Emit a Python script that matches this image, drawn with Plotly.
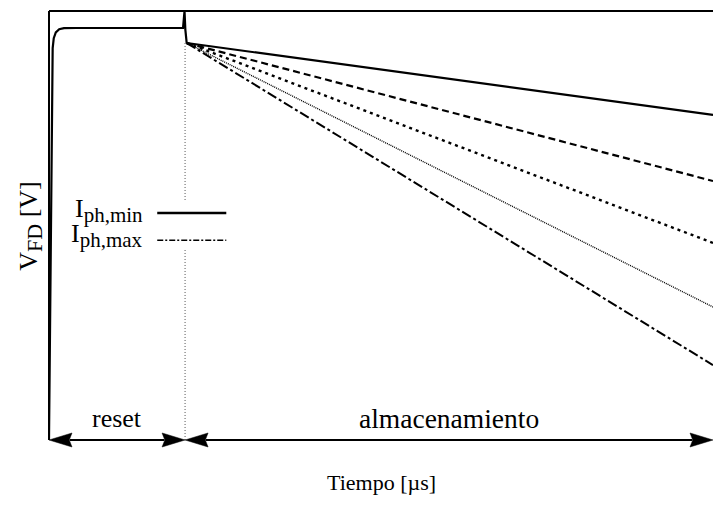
import plotly.graph_objects as go

# ---- data ----
# reset phase waveform (time in µs, voltage in V)
reset_t = [0.0, 0.012, 0.018, 0.022, 0.027, 0.035, 0.05, 0.075, 0.11, 0.2, 0.5, 0.985, 0.996, 1.002, 1.012]
reset_v = [0.0, 1.2, 2.3, 2.62, 2.74, 2.81, 2.85, 2.872, 2.88, 2.881, 2.881, 2.881, 3.0, 2.87, 2.776]

# storage phase: start point and end values for each photocurrent
store_t = [1.012, 4.88]
store_start_v = 2.776
store_end_v = [2.273, 1.811, 1.378, 0.930, 0.524]
store_dash = ["solid", "7px,4px", "3px,4px", "1px,1px", "10px,3px,3px,3px"]
store_width = [2.2, 2.2, 2.4, 1.4, 2.0]

# phase boundaries (µs)
t_phase = [0.0, 1.0, 4.88]
phase_labels = ["reset", "almacenamiento"]
phase_label_size = [26, 27.5]

Y_TOP = 3.0
Y_BOT = -0.07

FONT = "Liberation Serif"

fig = go.Figure()

# vertical dotted marker at end of reset
fig.add_trace(go.Scatter(x=[t_phase[1], t_phase[1]], y=[0, store_start_v], mode="lines",
                         line=dict(color="#555", width=1, dash="1px,2px"), hoverinfo="skip"))

fig.add_trace(go.Scatter(x=reset_t, y=reset_v, mode="lines",
                         line=dict(color="black", width=2.2), hoverinfo="skip"))

for ve, d, w in zip(store_end_v, store_dash, store_width):
    fig.add_trace(go.Scatter(x=store_t, y=[store_start_v, ve], mode="lines",
                             line=dict(color="black", width=w, dash=d), hoverinfo="skip"))

# dimension arrows along the bottom
px_per_t = 664 / (t_phase[2] - t_phase[0])
px_per_v = 439 / (Y_TOP - Y_BOT)
L = 23 / px_per_t
H = 7 / px_per_v
N = 0.12 * L
for a, b in zip(t_phase[:-1], t_phase[1:]):
    fig.add_trace(go.Scatter(x=[a + L * 0.9, b - L * 0.9], y=[0, 0], mode="lines",
                             line=dict(color="black", width=2), hoverinfo="skip"))
    # left head
    fig.add_trace(go.Scatter(x=[a, a + L, a + L - N, a + L, a], y=[0, H, 0, -H, 0],
                             mode="lines", fill="toself", fillcolor="black",
                             line=dict(color="black", width=0.5), hoverinfo="skip"))
    # right head
    fig.add_trace(go.Scatter(x=[b, b - L, b - L + N, b - L, b], y=[0, H, 0, -H, 0],
                             mode="lines", fill="toself", fillcolor="black",
                             line=dict(color="black", width=0.5), hoverinfo="skip"))

for i, lab in enumerate(phase_labels):
    fig.add_annotation(x=(t_phase[i] + t_phase[i + 1]) / 2, y=0.15, xref="x", yref="y",
                       text=lab, showarrow=False,
                       font=dict(family=FONT, size=phase_label_size[i], color="black"))

shapes = [
    # frame: top and left
    dict(type="line", xref="paper", yref="paper", x0=0, x1=1, y0=1, y1=1,
         line=dict(color="black", width=2)),
    dict(type="line", xref="paper", yref="y", x0=0, x1=0, y0=0, y1=Y_TOP,
         line=dict(color="black", width=2)),
    # legend background and samples
    dict(type="rect", xref="paper", yref="paper", x0=0.15, x1=0.28, y0=0.456, y1=0.569,
         fillcolor="white", line=dict(width=0), layer="above"),
    dict(type="line", xref="paper", yref="paper", x0=0.163, x1=0.267, y0=0.540, y1=0.540,
         line=dict(color="black", width=2.5), layer="above"),
    dict(type="line", xref="paper", yref="paper", x0=0.163, x1=0.267, y0=0.478, y1=0.478,
         line=dict(color="black", width=1.5, dash="6px,2px,2px,2px"), layer="above"),
]

SUB = "<sub><span style='font-size:21px'>{}</span></sub>"
fig.add_annotation(x=0.1445, y=0.545, xref="paper", yref="paper", xanchor="right", yanchor="middle",
                   text="I" + SUB.format("ph,min"), showarrow=False,
                   font=dict(family=FONT, size=26, color="black"))
fig.add_annotation(x=0.1445, y=0.488, xref="paper", yref="paper", xanchor="right", yanchor="middle",
                   text="I" + SUB.format("ph,max"), showarrow=False,
                   font=dict(family=FONT, size=26, color="black"))

fig.add_annotation(x=-0.057, y=0.51, xref="paper", yref="paper", textangle=-90,
                   text="V<sub><span style='font-size:22px'>FD</span></sub> [V]", showarrow=False,
                   font=dict(family=FONT, size=26, color="black"))
fig.add_annotation(x=0.5, y=-0.107, xref="paper", yref="paper",
                   text="Tiempo [µs]", showarrow=False, font=dict(family=FONT, size=22, color="black"))

fig.update_layout(
    width=713, height=520,
    margin=dict(l=49, r=0, t=11, b=70),
    paper_bgcolor="white", plot_bgcolor="white",
    showlegend=False,
    shapes=shapes,
    xaxis=dict(range=[t_phase[0], t_phase[2]], showgrid=False, zeroline=False, showticklabels=False,
               ticks="", showline=False),
    yaxis=dict(range=[Y_BOT, Y_TOP], showgrid=False, zeroline=False, showticklabels=False,
               ticks="", showline=False),
)

fig.write_html("out.html")
